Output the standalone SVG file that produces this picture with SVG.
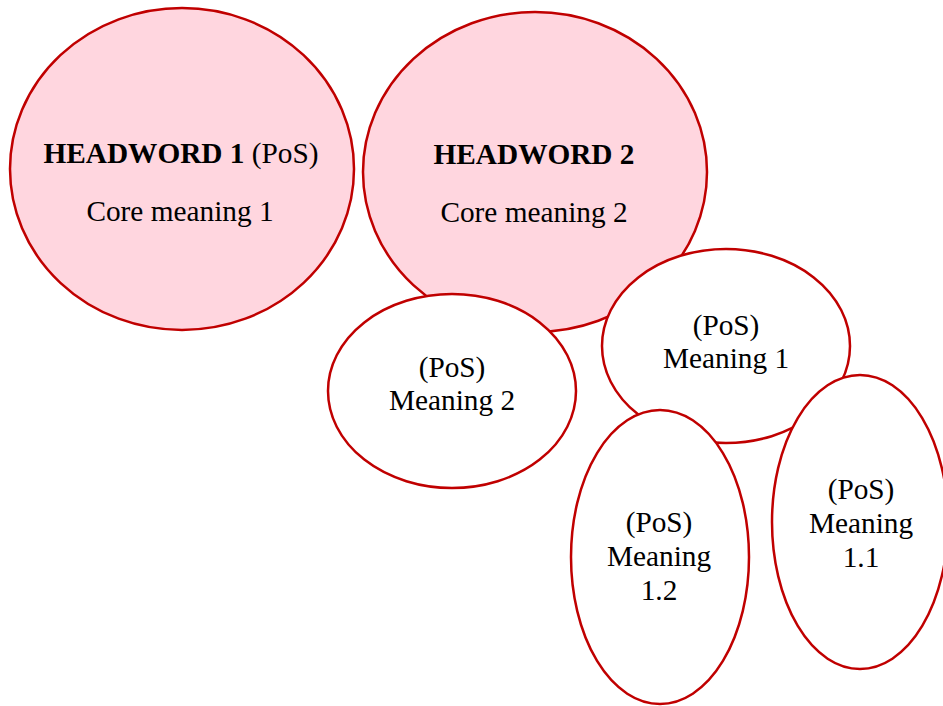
<svg xmlns="http://www.w3.org/2000/svg" width="943" height="706" viewBox="0 0 943 706">
  <style>
    .bubble { stroke: #C00000; stroke-width: 2.5; }
    .head { fill: #FFD6DF; }
    .sense { fill: #FFFFFF; }
    text { font-family: "Liberation Serif", "Times New Roman", serif; font-size: 29.3px; fill: #000; text-anchor: middle; }
    .b { font-weight: bold; }
  </style>
  <rect width="943" height="706" fill="#FFFFFF"/>

  <g id="headword1">
    <ellipse class="bubble head" cx="182" cy="169" rx="172" ry="161"/>
    <text x="181" y="163"><tspan class="b">HEADWORD 1</tspan> (PoS)</text>
    <text x="180" y="221">Core meaning 1</text>
  </g>

  <g id="headword2">
    <ellipse class="bubble head" cx="535" cy="172" rx="172" ry="160"/>
    <text x="534" y="164" class="b">HEADWORD 2</text>
    <text x="534" y="222">Core meaning 2</text>
  </g>

  <g id="meaning2">
    <ellipse class="bubble sense" cx="452" cy="391" rx="124" ry="97"/>
    <text x="452" y="377">(PoS)</text>
    <text x="452" y="410">Meaning 2</text>
  </g>

  <g id="meaning1">
    <ellipse class="bubble sense" cx="726" cy="346" rx="124" ry="97"/>
    <text x="726" y="335">(PoS)</text>
    <text x="726" y="368">Meaning 1</text>
  </g>

  <g id="meaning1-2">
    <ellipse class="bubble sense" cx="660" cy="557" rx="89" ry="147"/>
    <text x="659" y="532">(PoS)</text>
    <text x="659" y="566">Meaning</text>
    <text x="659" y="600">1.2</text>
  </g>

  <g id="meaning1-1">
    <ellipse class="bubble sense" cx="860" cy="522" rx="88" ry="147"/>
    <text x="861" y="499">(PoS)</text>
    <text x="861" y="533">Meaning</text>
    <text x="861" y="567">1.1</text>
  </g>
</svg>
